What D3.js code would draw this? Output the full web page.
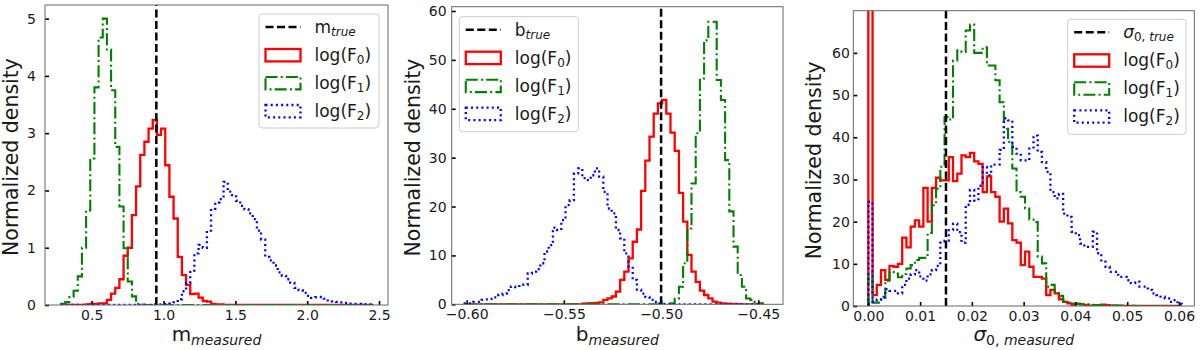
<!DOCTYPE html>
<html><head><meta charset="utf-8">
<script src="https://cdn.jsdelivr.net/npm/d3@7"></script>
<style>body{margin:0;background:#fff;} svg{display:block;font-family:"DejaVu Sans",sans-serif;}</style>
</head><body><svg id="c" width="1200" height="350"></svg>
<script>
// ================= DATA =================
// Panel 1: slope m
const mTrue = 0.95;
const mBinStart = 0.287, mBinWidth = 0.029;
const mF0 = [0,0,0,0,0,0,0.01,0.02,0.02,0.03,0.03,0.09,0.2,0.3,0.45,0.86,1.0,1.57,2.07,2.62,2.85,3.08,3.23,2.97,3.08,2.44,1.89,1.51,0.84,0.52,0.35,0.19,0.2,0.13,0.07,0.06,0.02,0.01,0.01,0,0,0,0,0,0,0,0,0,0,0,0,0,0,0,0,0,0,0,0,0,0,0,0,0,0,0,0,0,0,0,0,0,0,0,0];
const mF1 = [0.02,0.05,0.14,0.25,0.5,1.0,1.65,2.56,3.8,4.67,5.0,4.46,3.75,2.76,1.72,0.99,0.41,0.15,0.02,0.01,0,0,0,0,0,0,0,0,0,0,0,0,0,0,0,0,0,0,0,0,0,0,0,0,0,0,0,0,0,0,0,0,0,0,0,0,0,0,0,0,0,0,0,0,0,0,0,0,0,0,0,0,0,0,0];
const mF2 = [0,0,0,0,0,0,0,0,0,0,0,0,0,0,0,0,0,0,0,0,0,0,0.01,0.01,0.01,0.015,0.025,0.045,0.1,0.24,0.38,0.6,0.9,1.05,1.0,1.3,1.68,1.79,1.85,2.15,1.98,1.92,1.82,1.73,1.67,1.6,1.5,1.3,1.14,0.84,0.78,0.69,0.57,0.51,0.45,0.39,0.3,0.26,0.21,0.16,0.125,0.135,0.14,0.11,0.08,0.065,0.055,0.045,0.035,0.025,0.02,0.02,0.015,0.01,0.01];
const mXTicks = [0.5, 1.0, 1.5, 2.0, 2.5];
const mYTicks = [0, 1, 2, 3, 4, 5];

// Panel 2: intercept b
const bTrue = -0.5;
const bBinStart = -0.601, bBinWidth = 0.00216;
const bF0 = [0,0,0,0,0,0,0,0,0,0,0,0,0,0,0,0,0,0,0,0,0,0,0,0,0,0,0,0,0.15,0.2,0.25,0.3,0.4,0.9,1.2,1.6,2.6,5.0,6.7,9.4,12.8,15.3,23.2,29.4,34.3,39,41.1,41.8,39,35.1,31.4,22.8,16.9,10.1,6.7,4.6,2.8,1.9,1.2,0.55,0.35,0.2,0.15,0.1,0.1,0.05,0,0,0,0,0];
const bF1 = [0,0,0,0,0,0,0,0,0,0,0,0,0,0,0,0,0,0,0,0,0,0,0,0,0,0,0,0,0,0,0,0,0,0,0,0,0,0,0,0,0,0,0,0,0,0,0,0,0,0.2,1.2,3.6,8.4,15.5,24.7,35,46.2,54,57.8,57.8,45.9,41.8,29.5,19,11.8,6,3.6,1.2,0.9,0.5,0.2];
const bF2 = [0.2,0.2,0.5,0.5,0.9,1.0,1.1,1.4,1.9,2.2,2.9,3.6,3.5,4.0,4.0,6.3,6.7,7.2,8.4,10.8,12.1,15.7,15.2,17.2,20.3,21.3,26.8,27.8,25.8,25.4,26.4,27.8,26.1,23,19.6,18.6,15.2,13.5,10.4,7.7,5,3,2.2,1.5,0.9,0.5,0.2,0.1,0,0,0,0,0,0,0,0,0,0,0,0,0,0,0,0,0,0,0,0,0,0,0];
const bXTicks = [-0.60, -0.55, -0.50, -0.45];
const bYTicks = [0, 10, 20, 30, 40, 50, 60];

// Panel 3: intrinsic scatter sigma0
const sTrue = 0.015;
const sBinStart = 0, sBinWidth = 0.000818;
const sF0 = [200,2.6,5.0,8.5,6.2,9.5,9.3,10,16.2,13.9,18.8,20.3,18.8,28,20,28,30.4,29.8,29.8,35.3,29.6,31.4,35.7,35.3,36.3,34.3,33.7,27,30.7,27,25.9,20,23.1,19.6,15.6,15,9.7,12.9,9.3,6.9,6.9,6.5,2.6,3.8,3.0,1.6,1.0,0.6,0.3,0.5,0.4,0.2,0.1,0.1,0.1,0.3,0.2,0.1,0.1,0.05,0,0,0,0,0,0,0,0,0,0,0,0,0,0];
const sF1 = [7.7,0.8,0.8,2.2,6.0,8.1,7.7,6.8,7.6,8.9,9.7,10.9,11.4,11.4,17.3,23.9,27.8,33,44.8,44.2,58.2,60.6,60.2,65.3,66.7,60,60,61.3,57,57,53.5,48.3,42,38.9,32.6,27,25.9,23.1,20.5,19.9,11.7,10.1,4.6,5,3.4,2.4,1.0,0.8,0.6,0.5,0.4,0.4,0.3,0.2,0.2,0.2,0.1,0.1,0.1,0.1,0.1,0.05,0.05,0,0,0,0,0,0,0,0,0,0,0];
const sF2 = [24.7,1,1.5,2,4,3.6,3.6,3,5,6.5,7.5,8.5,7.0,6.0,7.5,8.5,9.5,15,15.5,18,19.5,17.5,15,24,27.5,25,28.5,33,31,33.5,33.5,37,44.5,44,37.7,36.1,34.5,34.5,37.3,40.4,36.5,34.1,31.8,27,25.5,26.6,21.9,21.1,17.6,16.8,14.8,14,14,17.6,12.5,10.5,9.3,8.1,8.1,6.9,6.9,6.1,5.4,5.8,4.6,4.6,3.8,3.0,2.6,2.2,1.8,1.0,1.4,0.5];
const sXTicks = [0.00, 0.01, 0.02, 0.03, 0.04, 0.05, 0.06];
const sYTicks = [0, 10, 20, 30, 40, 50, 60];

const seriesNames = ["0", "1", "2"];

// ================= STYLE / LAYOUT =================
const styles = [
  {color:"#ff0000", width:2.3, dash:null},
  {color:"#008000", width:2.1, dash:"12,3.2,2,3.2"},
  {color:"#0000ff", width:2.3, dash:"2,3.2"}
];
const trueStyle = {color:"#000", width:2.5, dash:"8,3.5"};

const svg = d3.select("#c");

function drawPanel(cfg){
  const x = d3.scaleLinear().domain(cfg.xDomain).range([cfg.left, cfg.right]);
  const y = d3.scaleLinear().domain(cfg.yDomain).range([cfg.bottom, cfg.top]);
  const clipId = "clip" + cfg.id;
  svg.append("clipPath").attr("id", clipId).append("rect")
    .attr("x", cfg.left).attr("y", cfg.top)
    .attr("width", cfg.right - cfg.left).attr("height", cfg.bottom - cfg.top);
  const g = svg.append("g");
  const plot = g.append("g").attr("clip-path", `url(#${clipId})`);

  const line = d3.line().x(d => x(d[0])).y(d => y(d[1]));
  cfg.series.forEach((vals, si) => {
    const st = styles[si];
    const pts = [[cfg.binStart, 0]];
    vals.forEach((v, i) => {
      const x0 = cfg.binStart + i * cfg.binWidth;
      pts.push([x0, v], [x0 + cfg.binWidth, v]);
    });
    pts.push([cfg.binStart + vals.length * cfg.binWidth, 0]);
    plot.append("path").attr("d", line(pts))
      .attr("fill", "none").attr("stroke", st.color)
      .attr("stroke-width", st.width)
      .attr("stroke-dasharray", st.dash)
      .attr("stroke-linejoin", "miter");
  });
  plot.append("line")
    .attr("x1", x(cfg.trueVal)).attr("x2", x(cfg.trueVal))
    .attr("y1", cfg.bottom).attr("y2", cfg.top)
    .attr("stroke", trueStyle.color).attr("stroke-width", trueStyle.width)
    .attr("stroke-dasharray", trueStyle.dash);

  // axes
  const xa = g.append("g").attr("transform", `translate(0,${cfg.bottom})`)
    .call(d3.axisBottom(x).tickValues(cfg.xTicks).tickFormat(cfg.xFmt).tickSizeInner(-4).tickSizeOuter(0).tickPadding(5));
  const ya = g.append("g").attr("transform", `translate(${cfg.left},0)`)
    .call(d3.axisLeft(y).tickValues(cfg.yTicks).tickFormat(d3.format("d")).tickSizeInner(-4).tickSizeOuter(0).tickPadding(cfg.yPad));
  [xa, ya].forEach(a => {
    a.select(".domain").remove();
    a.selectAll(".tick line").attr("stroke", "#000").attr("stroke-width", 1.6);
    a.selectAll(".tick text").attr("fill", "#1a1a1a").style("font-size", "14px").style("font-family", '"DejaVu Sans", sans-serif');
  });

  // frame
  g.append("rect").attr("x", cfg.left).attr("y", cfg.top)
    .attr("width", cfg.right - cfg.left).attr("height", cfg.bottom - cfg.top)
    .attr("fill", "none").attr("stroke", "#666").attr("stroke-width", 1);

  // y label
  svg.append("text")
    .attr("transform", `translate(${cfg.yLabelX},${(cfg.top + cfg.bottom) / 2 + 2}) rotate(-90)`)
    .attr("text-anchor", "middle").style("font-size", "20.5px").attr("fill", "#1a1a1a")
    .text("Normalized density");

  // x label
  const xl = svg.append("text").attr("x", (cfg.left + cfg.right) / 2).attr("y", 341)
    .attr("text-anchor", "middle").attr("fill", "#1a1a1a").style("font-size", "20px");
  cfg.xLabel(xl, 20, 14, 3.5);

  // legend
  const L = cfg.legend;
  const lg = svg.append("g");
  lg.append("rect").attr("x", L.x).attr("y", L.y).attr("width", L.w).attr("height", L.h)
    .attr("rx", 3).attr("fill", "#fff").attr("fill-opacity", 0.8)
    .attr("stroke", "#cccccc").attr("stroke-width", 1);
  const hx = L.x + 6.5, hw = 35, tx = L.x + 55.5;
  const rowY = i => L.y + 13 + i * 28;
  lg.append("line").attr("x1", hx).attr("x2", hx + hw).attr("y1", rowY(0)).attr("y2", rowY(0))
    .attr("stroke", trueStyle.color).attr("stroke-width", trueStyle.width).attr("stroke-dasharray", trueStyle.dash);
  const t0 = lg.append("text").attr("x", tx).attr("y", rowY(0) + 6).attr("fill", "#1a1a1a").style("font-size", "17px");
  cfg.trueLabel(t0, 17, 12, 3);
  seriesNames.forEach((nm, i) => {
    const st = styles[i];
    const ry = rowY(i + 1);
    lg.append("rect").attr("x", hx).attr("y", ry - 6).attr("width", hw).attr("height", 12.4)
      .attr("fill", "none").attr("stroke", st.color).attr("stroke-width", st.width)
      .attr("stroke-dasharray", st.dash);
    const t = lg.append("text").attr("x", tx).attr("y", ry + 6).attr("fill", "#1a1a1a").style("font-size", "17px");
    t.append("tspan").text("log(F");
    t.append("tspan").style("font-size", "12px").attr("dy", 3).text(nm);
    t.append("tspan").attr("dy", -3).text(")");
  });
}

function simpleLabel(main, sub, mainItalic){
  return function(t, fs, ss, dy){
    t.append("tspan").style("font-style", mainItalic ? "italic" : "normal").text(main);
    t.append("tspan").style("font-size", ss + "px").style("font-style", "italic").attr("dy", dy).text(sub);
  };
}
function sigmaLabel(sub){
  return function(t, fs, ss, dy){
    t.append("tspan").style("font-style", "italic").text("σ");
    t.append("tspan").style("font-size", ss + "px").attr("dy", dy).text("0, ");
    t.append("tspan").style("font-size", ss + "px").style("font-style", "italic").text(sub);
  };
}

const minusFmt = f => d => d3.format(f)(d).replace("-", "\u2212");

drawPanel({
  id: 1, left: 45, right: 388, top: 5, bottom: 305,
  xDomain: [0.175, 2.5626], yDomain: [0, 5.238],
  binStart: mBinStart, binWidth: mBinWidth, series: [mF0, mF1, mF2], trueVal: mTrue,
  xTicks: mXTicks, yTicks: mYTicks, xFmt: d3.format(".1f"), yPad: 9, yLabelX: 18,
  xLabel: simpleLabel("m", "measured", false), trueLabel: simpleLabel("m", "true", false),
  legend: {x: 259, y: 14, w: 120, h: 114}
});
drawPanel({
  id: 2, left: 451.7, right: 783, top: 6.7, bottom: 304.3,
  xDomain: [-0.6077, -0.4373], yDomain: [0, 60.88],
  binStart: bBinStart, binWidth: bBinWidth, series: [bF0, bF1, bF2], trueVal: bTrue,
  xTicks: bXTicks, yTicks: bYTicks, xFmt: minusFmt(".2f"), yPad: 5, yLabelX: 420,
  xLabel: simpleLabel("b", "measured", false), trueLabel: simpleLabel("b", "true", false),
  legend: {x: 459.3, y: 16.7, w: 119, h: 115}
});
drawPanel({
  id: 3, left: 853.3, right: 1194.3, top: 10.7, bottom: 306,
  xDomain: [-0.0029, 0.06296], yDomain: [0, 70],
  binStart: sBinStart, binWidth: sBinWidth, series: [sF0, sF1, sF2], trueVal: sTrue,
  xTicks: sXTicks, yTicks: sYTicks, xFmt: d3.format(".2f"), yPad: 3.5, yLabelX: 821,
  xLabel: sigmaLabel("measured"), trueLabel: sigmaLabel("true"),
  legend: {x: 1067.7, y: 19.3, w: 118.3, h: 115}
});
</script></body></html>
